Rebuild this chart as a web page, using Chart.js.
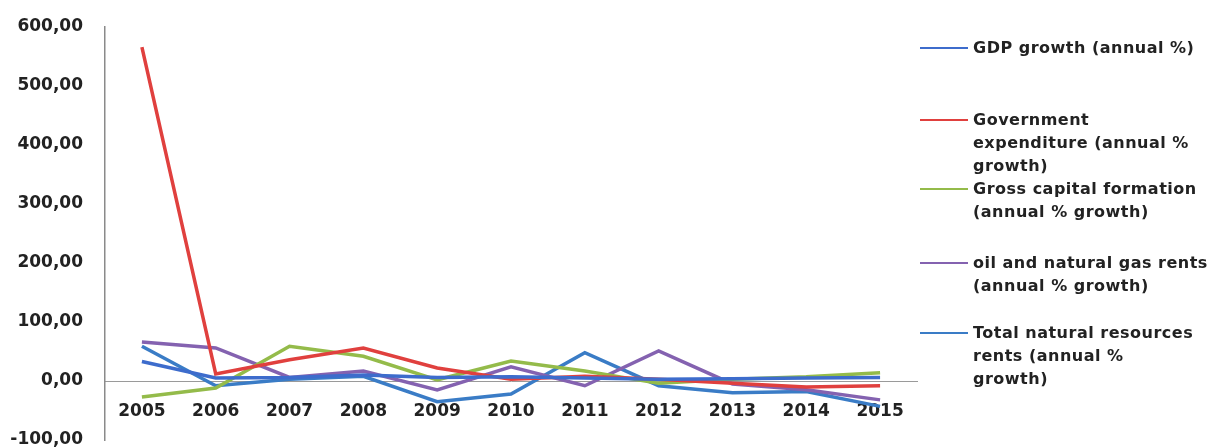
<!DOCTYPE html>
<html>
<head>
<meta charset="utf-8">
<script src="https://cdn.jsdelivr.net/npm/chart.js@4.4.1/dist/chart.umd.min.js"></script>
<style>
  body { margin: 0; background: #fff; }
  #wrap { position: relative; width: 1210px; height: 447px; overflow: hidden; }
  #legend { position: absolute; left: 920px; top: 0; font-family: "DejaVu Sans", sans-serif; font-weight: bold; font-size: 16px; letter-spacing: 0.5px; color: #222; }
  .item { position: absolute; left: 0; width: 290px; }
  .item .swatch { position: absolute; left: 0; width: 48px; height: 2px; }
  .item .txt { position: absolute; left: 53px; line-height: 23px; white-space: nowrap; }
</style>
</head>
<body>
<div id="wrap">
  <canvas id="myChart" width="1210" height="447"></canvas>
  <div id="legend"></div>
</div>
<script>
// data
var years = ['2005', '2006', '2007', '2008', '2009', '2010', '2011', '2012', '2013', '2014', '2015'];
var gdpGrowth = [33, 5, 6, 10, 6, 7, 5, 3, 4, 5, 6];
var govExpenditure = [566, 12, 36, 56, 22, 3, 8, 3, -4, -10, -8];
var grossCapital = [-27, -12, 59, 42, 2, 34, 17, -4, 3, 7, 14];
var oilGasRents = [66, 56, 6, 17, -15, 24, -8, 51, -5, -15, -32];
var totalRents = [59, -8, 3, 8, -35, -22, 48, -8, -20, -18, -43];

var seriesNames = [
    ['GDP growth (annual %)'],
    ['Government', 'expenditure (annual %', 'growth)'],
    ['Gross capital formation', '(annual % growth)'],
    ['oil and natural gas rents', '(annual % growth)'],
    ['Total natural resources', 'rents (annual %', 'growth)']
];
var seriesData = [gdpGrowth, govExpenditure, grossCapital, oilGasRents, totalRents];
var seriesColors = ['#3d6ccc', '#e0403e', '#94bb4a', '#8462b0', '#3a7cc6'];
var legendTops = [36, 108, 177, 251, 321]; // y of first text line

var datasets = [];
for (var i = 0; i < seriesData.length; i++) {
    datasets.push({
        label: seriesNames[i].join(' '),
        data: seriesData[i],
        borderColor: seriesColors[i],
        backgroundColor: seriesColors[i],
        borderWidth: 3.5,
        pointRadius: 0,
        tension: 0,
        fill: false
    });
}

var config = {
    type: 'line',
    data: { labels: years, datasets: datasets },
    options: {
        responsive: false,
        animation: false,
        layout: { padding: { top: 27, right: 293, bottom: 7, left: 0 } },
        plugins: { legend: { display: false }, tooltip: { enabled: false } },
        scales: {
            x: {
                position: { y: 0 },
                offset: true,
                grid: { display: false, drawTicks: false },
                border: { display: true, color: '#9a9a9a', width: 1 },
                ticks: {
                    color: '#222',
                    padding: 20,
                    maxRotation: 0,
                    font: { family: 'DejaVu Sans', weight: 'bold', size: 17 }
                },
                afterFit: function (scale) { scale.height = 0; }
            },
            y: {
                min: -100,
                max: 600,
                grid: { display: false, drawTicks: false },
                border: { display: true, color: '#8a8a8a', width: 1.5 },
                ticks: {
                    stepSize: 100,
                    color: '#222',
                    padding: 22,
                    font: { family: 'DejaVu Sans', weight: 'bold', size: 17 },
                    callback: function (v) { return v.toFixed(2).replace('.', ','); }
                },
                afterFit: function (scale) {
                    scale.width = 105;
                    scale.paddingTop = 0;
                    scale.paddingBottom = 0;
                }
            }
        }
    }
};

var ctx = document.getElementById('myChart').getContext('2d');
var myChart = new Chart(ctx, config);

// legend on the right, as real text
var legend = document.getElementById('legend');
for (var j = 0; j < seriesNames.length; j++) {
    var item = document.createElement('div');
    item.className = 'item';
    item.style.top = legendTops[j] + 'px';
    var sw = document.createElement('div');
    sw.className = 'swatch';
    sw.style.background = seriesColors[j];
    sw.style.top = '11px';
    var txt = document.createElement('div');
    txt.className = 'txt';
    txt.innerHTML = seriesNames[j].join('<br>');
    item.appendChild(sw);
    item.appendChild(txt);
    legend.appendChild(item);
}
</script>
</body>
</html>
